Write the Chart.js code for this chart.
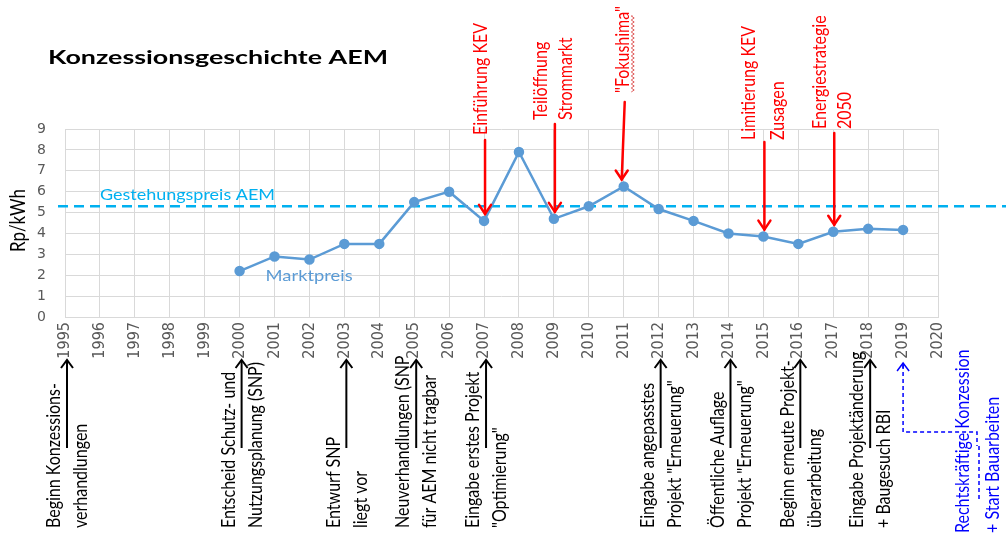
<!DOCTYPE html>
<html><head><meta charset="utf-8">
<script src="https://cdn.jsdelivr.net/npm/chart.js@4"></script>
<style>html,body{margin:0;padding:0;background:#fff}canvas{display:block}</style>
</head><body>
<canvas id="c" width="1006" height="535"></canvas>
<script>
// ---- data ----
const tickYears = ['1995','1996','1997','1998','1999','2000','2001','2002','2003','2004','2005','2006','2007','2008','2009','2010','2011','2012','2013','2014','2015','2016','2017','2018','2019','2020'];
const priceYears = ['2000','2001','2002','2003','2004','2005','2006','2007','2008','2009','2010','2011','2012','2013','2014','2015','2016','2017','2018','2019'];
const marketPrice = [2.2,2.9,2.75,3.5,3.5,5.5,6.0,4.6,7.9,4.7,5.3,6.25,5.17,4.6,4.0,3.85,3.5,4.08,4.22,4.17];
const costPrice = 5.3;
const titleText = 'Konzessionsgeschichte AEM';
const yAxisTitle = 'Rp/kWh';
const costLabel = 'Gestehungspreis AEM';
const marketLabel = 'Marktpreis';
const topEventYears = ['2007','2009','2011','2015','2017'];
const topEventTexts = [['Einführung KEV'],['Teilöffnung','Strommarkt'],['"Fokushima"'],['Limitierung KEV','Zusagen'],['Energiestrategie','2050']];
const bottomEventYears = ['1995','2000','2003','2005','2007','2012','2014','2016','2018','2019'];
const bottomEventTexts = [
  ['Beginn Konzessions-','verhandlungen'],
  ['Entscheid Schutz- und','Nutzungsplanung (SNP)'],
  ['Entwurf SNP','liegt vor'],
  ['Neuverhandlungen (SNP','für AEM nicht tragbar'],
  ['Eingabe erstes Projekt','"Optimierung"'],
  ['Eingabe angepasstes','Projekt "Erneuerung"'],
  ['Öffentliche Auflage','Projekt "Erneuerung"'],
  ['Beginn erneute Projekt-','überarbeitung'],
  ['Eingabe Projektänderung','+ Baugesuch RBI'],
  ['Rechtskräftige Konzession','+ Start Bauarbeiten']
];

// ---- layout (pixels) ----
const topLayout = [
  {startY:140, textBottom:135, offs:[-3]},
  {startY:124, textBottom:120, offs:[-13,12]},
  {startY:102, textBottom:93, offs:[-1], endDx:-2},
  {startY:142, textBottom:140, offs:[-15,14]},
  {startY:133, textBottom:129, offs:[-13,12]}
];
const bottomLayout = {arrowTop:360, arrowBottom:448, textBottom:528, lineOffs:[-13,14], dx:2};
const FONT = 'Lato, "Open Sans", sans-serif';
const STRETCH = 1.2;

function rotText(ctx, t, x, yBottom, font, color) {
  ctx.save();
  ctx.font = font; ctx.fillStyle = color;
  ctx.translate(x, yBottom); ctx.scale(STRETCH, 1); ctx.rotate(-Math.PI/2);
  ctx.textAlign = 'left'; ctx.textBaseline = 'middle';
  ctx.fillText(t, 0, 0);
  ctx.restore();
}
function fitText(ctx, t, x, y, targetW, font, color) {
  ctx.save();
  ctx.font = font; ctx.fillStyle = color;
  ctx.textAlign = 'left'; ctx.textBaseline = 'middle';
  const w = ctx.measureText(t).width;
  ctx.translate(x, y); ctx.scale(targetW / w, 1);
  ctx.fillText(t, 0, 0);
  ctx.restore();
}
function arrowDown(ctx, x1, y1, x2, y2, color, lw) {
  ctx.save(); ctx.strokeStyle = color; ctx.lineWidth = lw; ctx.lineCap='round';
  ctx.beginPath(); ctx.moveTo(x1, y1); ctx.lineTo(x2, y2); ctx.stroke();
  ctx.beginPath(); ctx.moveTo(x2-6, y2-9); ctx.lineTo(x2, y2); ctx.lineTo(x2+6, y2-9); ctx.stroke();
  ctx.restore();
}
function arrowUp(ctx, x, yTop, yBot, color, lw, dash) {
  ctx.save(); ctx.strokeStyle = color; ctx.lineWidth = lw;
  if (dash) ctx.setLineDash(dash);
  ctx.beginPath(); ctx.moveTo(x, yBot); ctx.lineTo(x, yTop); ctx.stroke();
  ctx.setLineDash([]);
  ctx.beginPath(); ctx.moveTo(x-6, yTop+8); ctx.lineTo(x, yTop); ctx.lineTo(x+6, yTop+8); ctx.stroke();
  ctx.restore();
}
function wavy(ctx, x, y1, y2, color) {
  ctx.save(); ctx.strokeStyle = color; ctx.lineWidth = 1;
  ctx.beginPath(); ctx.moveTo(x, y1);
  let k = 0;
  for (let y = y1; y <= y2; y += 2) { ctx.lineTo(x + (k++ % 2 ? 1.5 : -1.5), y); }
  ctx.stroke(); ctx.restore();
}

const annotPlugin = {
  id: 'annot',
  beforeDatasetsDraw(chart) {
    const ctx = chart.ctx, y = chart.scales.y;
    const py = y.getPixelForValue(costPrice);
    ctx.save();
    ctx.strokeStyle = '#00b0f0'; ctx.lineWidth = 2.5; ctx.setLineDash([10,6]);
    ctx.beginPath(); ctx.moveTo(chart.chartArea.left - 7, py); ctx.lineTo(chart.width, py); ctx.stroke();
    ctx.restore();
  },
  afterDatasetsDraw(chart) {
    const ctx = chart.ctx, xs = chart.scales.x, ys = chart.scales.y;
    const xPix = yr => xs.getPixelForValue(xs.getLabels().indexOf(yr));
    // title
    fitText(ctx, titleText, 48, 58, 340, 'bold 19px ' + FONT, '#000');
    // y axis title
    rotText(ctx, yAxisTitle, 18, 252, '17px ' + FONT, '#000');
    // series labels
    const py = ys.getPixelForValue(costPrice);
    fitText(ctx, costLabel, 100, py - 11, 175, '15px ' + FONT, '#00b0f0');
    fitText(ctx, marketLabel, xPix('2000') + 26, ys.getPixelForValue(1.95), 87, '15px ' + FONT, '#5b9bd5');
    // top events
    topEventYears.forEach((yr, i) => {
      const L = topLayout[i];
      const px = xPix(yr);
      const v = marketPrice[priceYears.indexOf(yr)];
      const tipY = ys.getPixelForValue(v) - 7;
      arrowDown(ctx, px + 1, L.startY, px + (L.endDx || 1), tipY, '#ff0000', 2.5);
      topEventTexts[i].forEach((t, j) => rotText(ctx, t, px + L.offs[j], L.textBottom, '16px ' + FONT, '#ff0000'));
    });
    wavy(ctx, xPix('2011') + 9, 16, 92, '#e06060');
    // bottom events
    bottomEventYears.forEach((yr, i) => {
      const px = xPix(yr);
      const last = i === bottomEventYears.length - 1;
      if (!last) {
        const ax = px + bottomLayout.dx;
        arrowUp(ctx, ax, bottomLayout.arrowTop, bottomLayout.arrowBottom, '#000', 2);
        bottomEventTexts[i].forEach((t, j) => rotText(ctx, t, ax + bottomLayout.lineOffs[j], bottomLayout.textBottom, '16px ' + FONT, '#000'));
      } else {
        const ax = px;
        ctx.save(); ctx.strokeStyle = '#0000ff'; ctx.lineWidth = 1.5; ctx.setLineDash([4,3]);
        ctx.beginPath(); ctx.moveTo(ax, 365); ctx.lineTo(ax, 432); ctx.lineTo(977, 432); ctx.lineTo(977, 446); ctx.stroke();
        ctx.beginPath(); ctx.moveTo(979, 446); ctx.lineTo(979, 500); ctx.stroke();
        ctx.restore();
        arrowUp(ctx, ax, 363, 368, '#0000ff', 1.5);
        bottomEventTexts[i].forEach((t, j) => rotText(ctx, t, [963, 993][j], 533, '16px ' + FONT, '#0000ff'));
      }
    });
  }
};

new Chart(document.getElementById('c'), {
  type: 'line',
  data: {
    labels: tickYears,
    datasets: [{
      data: priceYears.map((yr, i) => ({x: yr, y: marketPrice[i]})),
      borderColor: '#5b9bd5', backgroundColor: '#5b9bd5',
      borderWidth: 2.5, pointRadius: 4, pointHoverRadius: 4, tension: 0
    }]
  },
  options: {
    responsive: false, animation: false, devicePixelRatio: 1,
    layout: {padding: {top: 129, right: 68, left: 0, bottom: 0}},
    plugins: {legend: {display: false}, tooltip: {enabled: false}, title: {display: false}},
    scales: {
      x: {
        type: 'category', offset: false,
        grid: {color: '#d9d9d9', drawTicks: false},
        border: {color: '#d9d9d9'},
        ticks: {autoSkip: false, maxRotation: 90, minRotation: 90, padding: 5, color: '#595959',
          font: {family: '"Liberation Sans Narrow", "DejaVu Sans Condensed", sans-serif', size: 16}},
        afterFit(s) { s.height = 218; }
      },
      y: {
        min: 0, max: 9,
        grid: {color: '#d9d9d9', drawTicks: false},
        border: {display: false},
        ticks: {stepSize: 1, padding: 19, color: '#595959', font: {family: '"DejaVu Sans", sans-serif', size: 14}},
        afterFit(s) { s.width = 65; }
      }
    }
  },
  plugins: [annotPlugin]
});
</script>
</body></html>
